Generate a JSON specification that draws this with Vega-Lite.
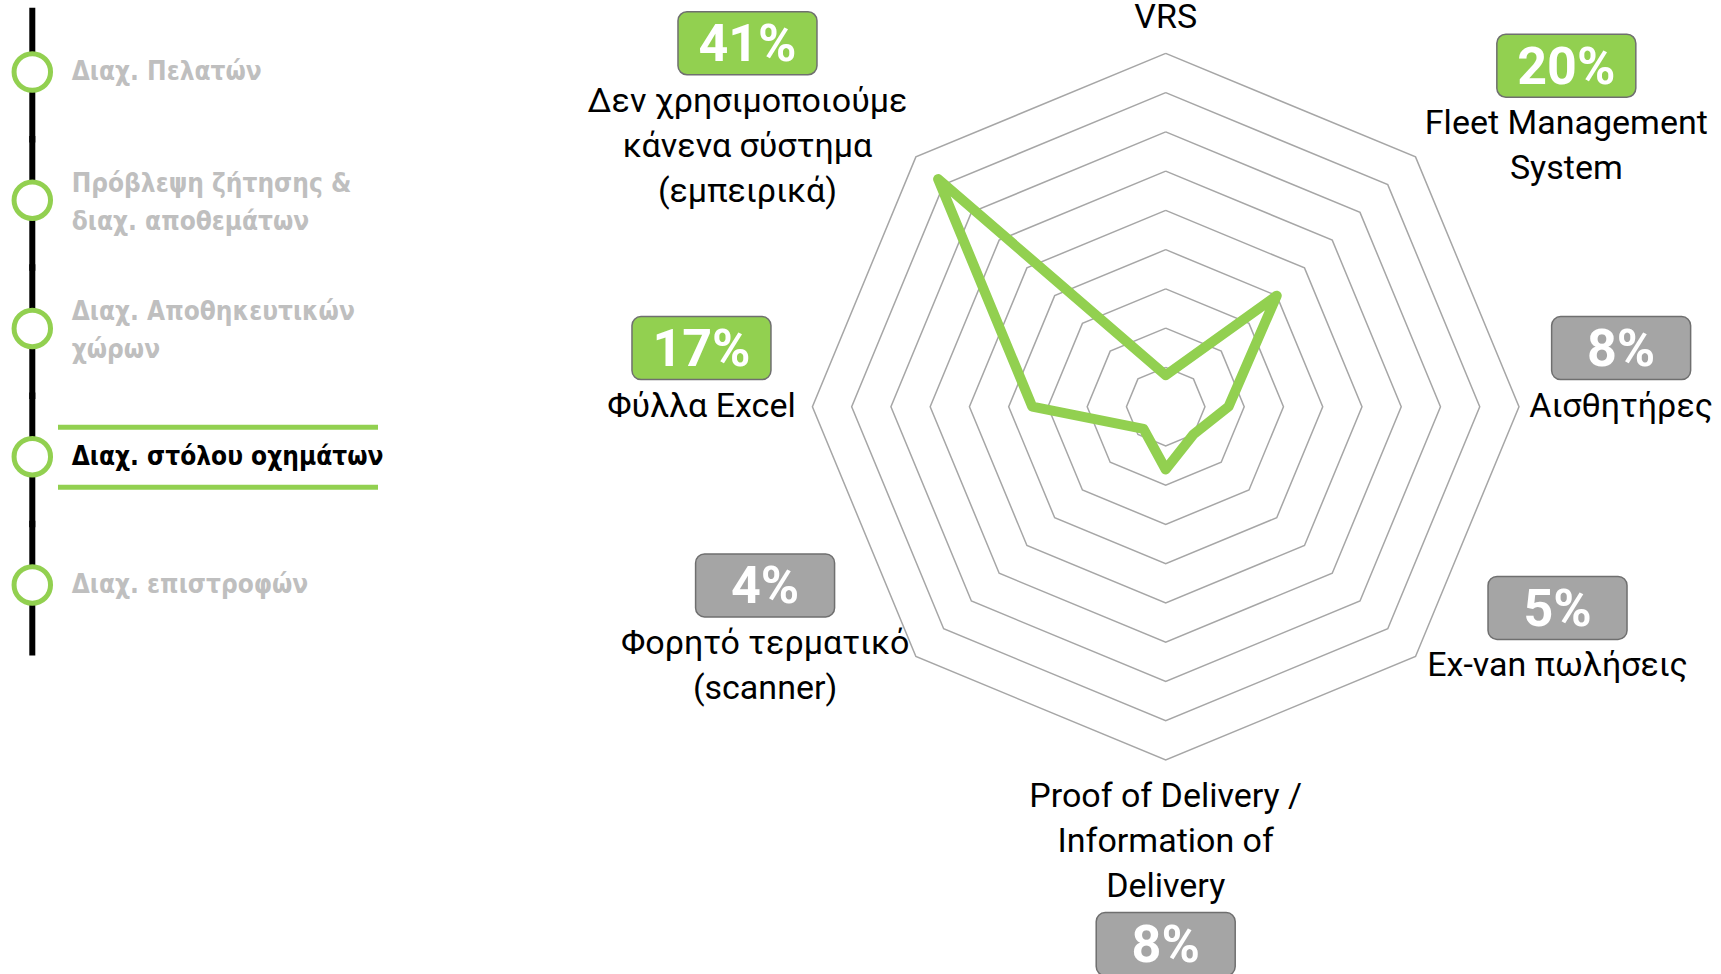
{
  "$schema": "https://vega.github.io/schema/vega-lite/v6.json",
  "width": 1721,
  "height": 974,
  "padding": 0,
  "autosize": {"type": "none"},
  "background": "white",
  "config": {"view": {"stroke": null}},
  "datasets": {
    "stages": [
      {"stage": "Διαχ. Πελατών", "order": 1, "selected": false},
      {"stage": "Πρόβλεψη ζήτησης &\nδιαχ. αποθεμάτων", "order": 2, "selected": false},
      {"stage": "Διαχ. Αποθηκευτικών\nχώρων", "order": 3, "selected": false},
      {"stage": "Διαχ. στόλου οχημάτων", "order": 4, "selected": true},
      {"stage": "Διαχ. επιστροφών", "order": 5, "selected": false}
    ],
    "rings": [
      {"ring": 5}, {"ring": 10}, {"ring": 15}, {"ring": 20}, {"ring": 25},
      {"ring": 30}, {"ring": 35}, {"ring": 40}, {"ring": 45}
    ],
    "cats": [
      {"i": 0, "label": "VRS", "value": 4, "pct": null},
      {"i": 1, "label": "Fleet Management\nSystem", "value": 20, "pct": "20%"},
      {"i": 2, "label": "Αισθητήρες", "value": 8, "pct": "8%"},
      {"i": 3, "label": "Ex-van πωλήσεις", "value": 5, "pct": "5%"},
      {"i": 4, "label": "Proof of Delivery /\nInformation of\nDelivery", "value": 8, "pct": "8%"},
      {"i": 5, "label": "Φορητό τερματικό\n(scanner)", "value": 4, "pct": "4%"},
      {"i": 6, "label": "Φύλλα Excel", "value": 17, "pct": "17%"},
      {"i": 7, "label": "Δεν χρησιμοποιούμε\nκάνενα σύστημα\n(εμπειρικά)", "value": 41, "pct": "41%"}
    ]
  },
  "resolve": {"scale": {"x": "independent", "y": "independent"}},
  "layer": [
    {
      "data": {"name": "stages"},
      "layer": [
        {
          "transform": [
            {"calculate": "datum.order - 0.5", "as": "y0"},
            {"calculate": "datum.order + 0.55", "as": "y1"}
          ],
          "mark": {"type": "rule", "color": "#000000", "strokeWidth": 6, "strokeCap": "butt"},
          "encoding": {
            "x": {"datum": 0, "type": "quantitative", "scale": {"domain": [-32.3, 1688.7], "nice": false, "zero": false}, "axis": null},
            "y": {"field": "y0", "type": "quantitative", "scale": {"domain": [0.4386, 8.0332], "reverse": true, "nice": false, "zero": false}, "axis": null},
            "y2": {"field": "y1"}
          }
        },
        {
          "transform": [{"filter": "datum.selected"}],
          "mark": {"type": "rule", "color": "#92d050", "strokeWidth": 5, "yOffset": -29.5},
          "encoding": {
            "x": {"datum": 25.7, "type": "quantitative", "scale": {"domain": [-32.3, 1688.7], "nice": false, "zero": false}, "axis": null},
            "x2": {"datum": 345.7},
            "y": {"field": "order", "type": "quantitative", "scale": {"domain": [0.4386, 8.0332], "reverse": true, "nice": false, "zero": false}, "axis": null}
          }
        },
        {
          "transform": [{"filter": "datum.selected"}],
          "mark": {"type": "rule", "color": "#92d050", "strokeWidth": 5, "yOffset": 30.5},
          "encoding": {
            "x": {"datum": 25.7, "type": "quantitative", "scale": {"domain": [-32.3, 1688.7], "nice": false, "zero": false}, "axis": null},
            "x2": {"datum": 345.7},
            "y": {"field": "order", "type": "quantitative", "scale": {"domain": [0.4386, 8.0332], "reverse": true, "nice": false, "zero": false}, "axis": null}
          }
        },
        {
          "mark": {"type": "point", "shape": "circle", "size": 1330, "filled": true, "fill": "#ffffff", "stroke": "#92d050", "strokeWidth": 5, "opacity": 1},
          "encoding": {
            "x": {"datum": 0, "type": "quantitative", "scale": {"domain": [-32.3, 1688.7], "nice": false, "zero": false}, "axis": null},
            "y": {"field": "order", "type": "quantitative", "scale": {"domain": [0.4386, 8.0332], "reverse": true, "nice": false, "zero": false}, "axis": null}
          }
        },
        {
          "transform": [
            {"calculate": "datum.order - (length(split(datum.stage, '\\n')) - 1) * 0.13", "as": "ty"}
          ],
          "mark": {"type": "text", "font": "DejaVu Sans Condensed", "fontWeight": "bold", "fontSize": 26, "align": "left", "baseline": "middle", "lineBreak": "\n", "lineHeight": 38},
          "encoding": {
            "x": {"datum": 39.4, "type": "quantitative", "scale": {"domain": [-32.3, 1688.7], "nice": false, "zero": false}, "axis": null},
            "y": {"field": "ty", "type": "quantitative", "scale": {"domain": [0.4386, 8.0332], "reverse": true, "nice": false, "zero": false}, "axis": null},
            "text": {"field": "stage"},
            "color": {"condition": {"test": "datum.selected", "value": "#000000"}, "value": "#bfbfbf"}
          }
        }
      ]
    },
    {
      "data": {"name": "rings"},
      "transform": [
        {"calculate": "[0,1,2,3,4,5,6,7,8]", "as": "k"},
        {"flatten": ["k"]},
        {"calculate": "datum.ring * sin(datum.k * PI / 4)", "as": "gx"},
        {"calculate": "datum.ring * cos(datum.k * PI / 4)", "as": "gy"}
      ],
      "mark": {"type": "line", "color": "#a6a6a6", "strokeWidth": 1.5},
      "encoding": {
        "x": {"field": "gx", "type": "quantitative", "scale": {"domain": [-148.48, 70.73], "nice": false, "zero": false}, "axis": null},
        "y": {"field": "gy", "type": "quantitative", "scale": {"domain": [-72.26, 51.8], "nice": false, "zero": false}, "axis": null},
        "detail": {"field": "ring", "type": "nominal"},
        "order": {"field": "k", "type": "quantitative"}
      }
    },
    {
      "data": {"name": "cats"},
      "transform": [
        {"calculate": "datum.i == 0 ? [0, 8] : [datum.i]", "as": "kk"},
        {"flatten": ["kk"]},
        {"calculate": "datum.value * sin(datum.kk * PI / 4)", "as": "vx"},
        {"calculate": "datum.value * cos(datum.kk * PI / 4)", "as": "vy"}
      ],
      "mark": {"type": "line", "color": "#92d050", "strokeWidth": 10, "strokeJoin": "round", "strokeCap": "round"},
      "encoding": {
        "x": {"field": "vx", "type": "quantitative", "scale": {"domain": [-148.48, 70.73], "nice": false, "zero": false}, "axis": null},
        "y": {"field": "vy", "type": "quantitative", "scale": {"domain": [-72.26, 51.8], "nice": false, "zero": false}, "axis": null},
        "order": {"field": "kk", "type": "quantitative"}
      }
    },
    {
      "data": {"name": "cats"},
      "transform": [
        {"calculate": "datum.i * PI / 4", "as": "th"},
        {"calculate": "46.8 * sin(datum.th)", "as": "ax"},
        {"calculate": "46.8 * cos(datum.th)", "as": "ay"},
        {"calculate": "split(datum.label, '\\n')", "as": "parts"},
        {"calculate": "length(datum.parts)", "as": "n"},
        {"calculate": "max(length(datum.parts[0]), length(datum.parts[1] || ''), length(datum.parts[2] || ''))", "as": "mc"},
        {"calculate": "sin(datum.th) > 0.01 ? 1 : (sin(datum.th) < -0.01 ? -1 : 0)", "as": "side"},
        {"calculate": "datum.ax + datum.side * datum.mc * 1.121", "as": "cx"},
        {"calculate": "(cos(datum.th) > 0.99 ? datum.ay + datum.n * 2.866 - 0.1 : (cos(datum.th) < -0.99 ? datum.ay - datum.n * 2.866 : datum.ay)) + (datum.n - 1) * 2.866", "as": "cy"},
        {"calculate": "cos(datum.th) < -0.99 ? datum.ay - datum.n * 5.732 - 4.458 : datum.ay + datum.n * 2.866 + 4.6", "as": "by"},
        {"calculate": "datum.cx - 8.852", "as": "bx1"},
        {"calculate": "datum.cx + 8.852", "as": "bx2"},
        {"calculate": "datum.by - 4.012", "as": "by1"},
        {"calculate": "datum.by + 4.012", "as": "by2"}
      ],
      "layer": [
        {
          "transform": [{"filter": "isValid(datum.pct)"}],
          "mark": {"type": "rect", "cornerRadius": 9, "stroke": "#6f6f6f", "strokeWidth": 1.5},
          "encoding": {
            "x": {"field": "bx1", "type": "quantitative", "scale": {"domain": [-148.48, 70.73], "nice": false, "zero": false}, "axis": null},
            "x2": {"field": "bx2"},
            "y": {"field": "by1", "type": "quantitative", "scale": {"domain": [-72.26, 51.8], "nice": false, "zero": false}, "axis": null},
            "y2": {"field": "by2"},
            "color": {"condition": {"test": "datum.value >= 10", "value": "#92d050"}, "value": "#a5a5a5"}
          }
        },
        {
          "transform": [{"filter": "isValid(datum.pct)"}],
          "mark": {"type": "text", "font": "Roboto", "fontWeight": "bold", "fontSize": 52, "align": "center", "baseline": "middle", "color": "#ffffff", "dy": 2},
          "encoding": {
            "x": {"field": "cx", "type": "quantitative", "scale": {"domain": [-148.48, 70.73], "nice": false, "zero": false}, "axis": null},
            "y": {"field": "by", "type": "quantitative", "scale": {"domain": [-72.26, 51.8], "nice": false, "zero": false}, "axis": null},
            "text": {"field": "pct"}
          }
        },
        {
          "mark": {"type": "text", "font": "Roboto", "fontSize": 34, "align": "center", "baseline": "middle", "color": "#000000", "lineBreak": "\n", "lineHeight": 45},
          "encoding": {
            "x": {"field": "cx", "type": "quantitative", "scale": {"domain": [-148.48, 70.73], "nice": false, "zero": false}, "axis": null},
            "y": {"field": "cy", "type": "quantitative", "scale": {"domain": [-72.26, 51.8], "nice": false, "zero": false}, "axis": null},
            "text": {"field": "label"}
          }
        }
      ]
    }
  ]
}
